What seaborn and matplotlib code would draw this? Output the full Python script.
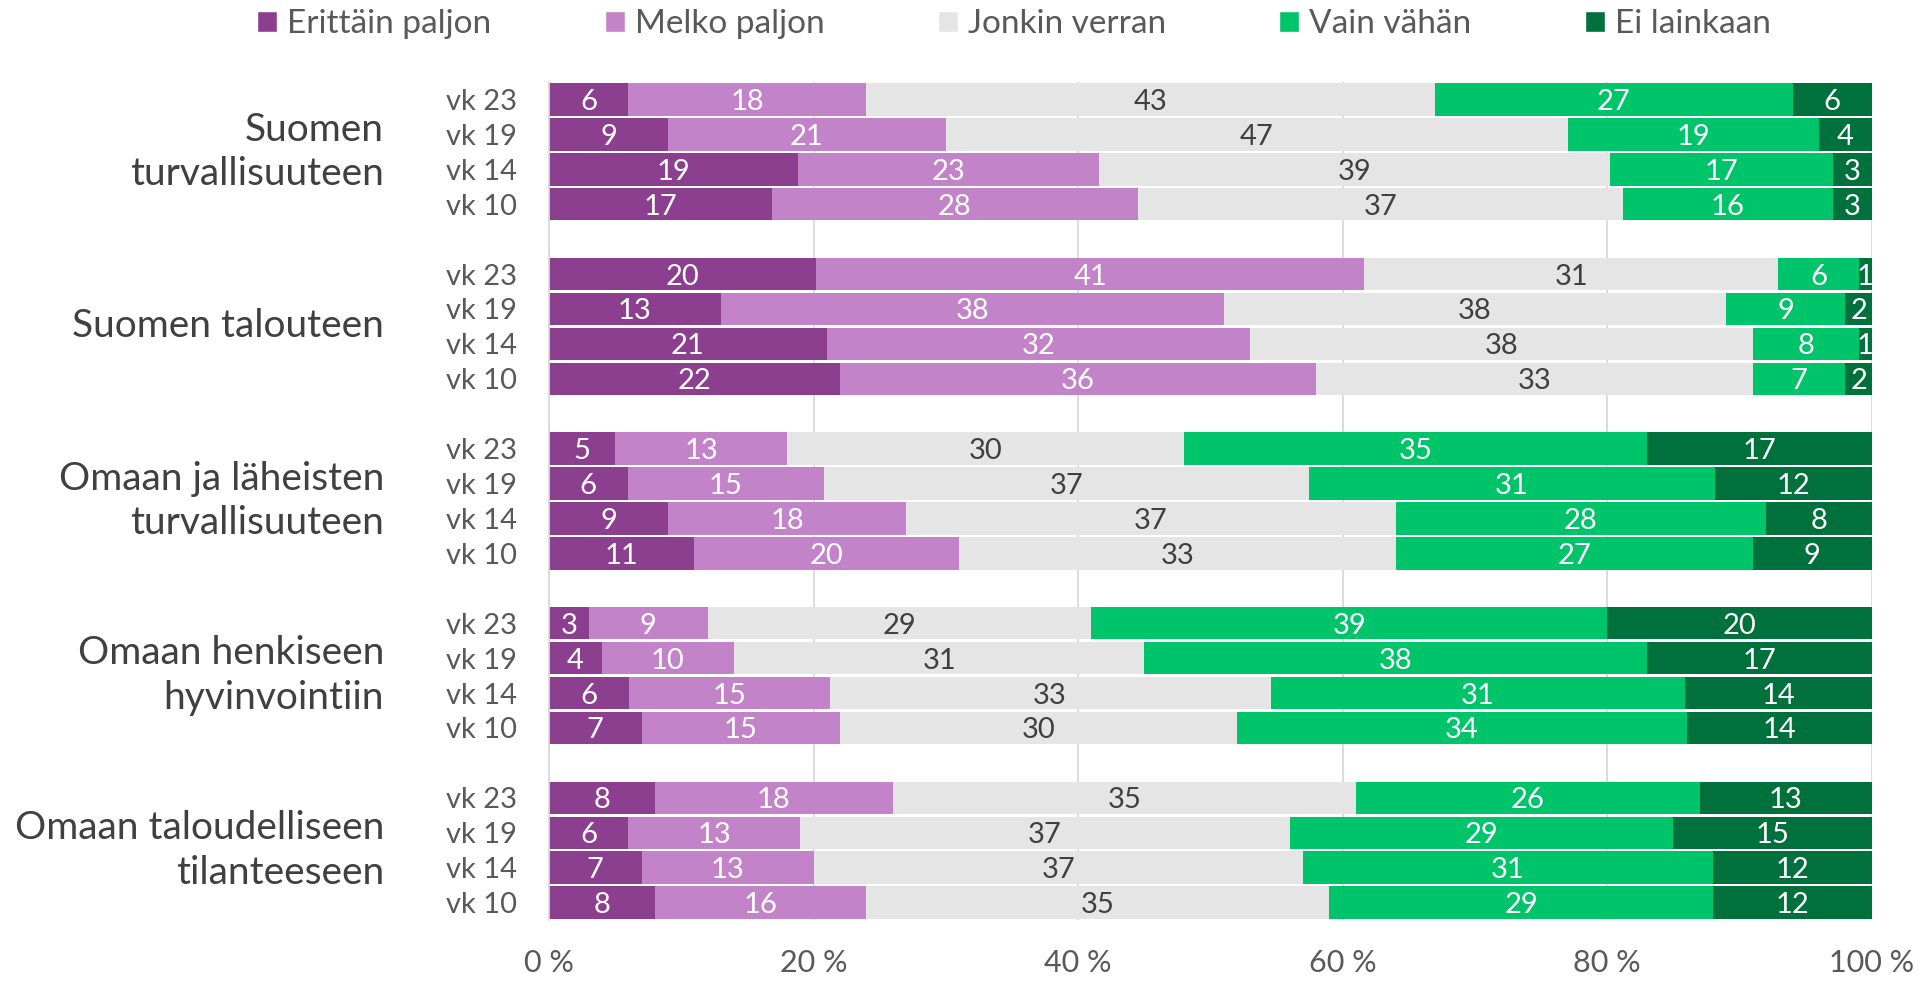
import numpy as np
import pandas as pd
import seaborn as sns
import matplotlib.pyplot as plt
from matplotlib.patches import Patch

# survey groups, top to bottom; four weeks per group
groups = ['Suomen\nturvallisuuteen', 'Suomen talouteen',
          'Omaan ja läheisten\nturvallisuuteen', 'Omaan henkiseen\nhyvinvointiin',
          'Omaan taloudelliseen\ntilanteeseen']
weeks = ['vk 23', 'vk 19', 'vk 14', 'vk 10']
answers = ['Erittäin paljon', 'Melko paljon', 'Jonkin verran', 'Vain vähän', 'Ei lainkaan']
colors = ['#8C3F8E', '#C383C8', '#E5E5E5', '#00C46A', '#00703C']

erittain = [6, 9, 19, 17, 20, 13, 21, 22, 5, 6, 9, 11, 3, 4, 6, 7, 8, 6, 7, 8]
melko = [18, 21, 23, 28, 41, 38, 32, 36, 13, 15, 18, 20, 9, 10, 15, 15, 18, 13, 13, 16]
jonkin = [43, 47, 39, 37, 31, 38, 38, 33, 30, 37, 37, 33, 29, 31, 33, 30, 35, 37, 37, 35]
vain = [27, 19, 17, 16, 6, 9, 8, 7, 35, 31, 28, 27, 39, 38, 31, 34, 26, 29, 31, 29]
ei = [6, 4, 3, 3, 1, 2, 1, 2, 17, 12, 8, 9, 20, 17, 14, 14, 13, 15, 12, 12]

sns.set_style('white')
plt.rcParams['font.family'] = ['Lato', 'DejaVu Sans']
dark = '#404040'
grey = '#595959'

df = pd.DataFrame({'group': np.repeat(groups, 4), 'week': weeks * 5})
for name, vals in zip(answers, [erittain, melko, jonkin, vain, ei]):
    df[name] = vals
# one empty slot between groups
df['pos'] = np.repeat(np.arange(5) * 5, 4) + np.tile(np.arange(4), 5)

vals = df[answers].to_numpy(float)
shares = vals / vals.sum(axis=1, keepdims=True) * 100
cum = shares.cumsum(axis=1)

fig = plt.figure(figsize=(19.26, 9.86), dpi=100)
ax = fig.add_axes([0.2850, 0.0669, 0.6869, 0.8499])

# stacked bars: draw cumulative totals from the longest down
for k in reversed(range(5)):
    df['cum'] = cum[:, k]
    sns.barplot(data=df, x='cum', y='pos', orient='h', native_scale=True,
                color=colors[k], saturation=1, width=0.93, linewidth=0,
                errorbar=None, ax=ax)

for i in range(len(df)):
    for k in range(5):
        ax.text(cum[i, k] - shares[i, k] / 2, df['pos'][i] + 0.07, str(int(vals[i, k])),
                ha='center', va='center', fontsize=21,
                color=dark if k == 2 else 'white')

ax.set_xlim(0, 100)
ax.set_ylim(23.5, -0.5)
ax.set_xticks(range(0, 101, 20))
ax.set_xticklabels([f'{v} %' for v in range(0, 101, 20)])
ax.set_yticks(df['pos'])
ax.set_yticklabels(df['week'])
ax.set_xlabel('')
ax.set_ylabel('')
ax.tick_params(axis='x', length=0, pad=21, labelsize=22, labelcolor=grey)
ax.tick_params(axis='y', length=0, pad=23, labelsize=21, labelcolor=grey)
ax.xaxis.grid(True, color='#D9D9D9', linewidth=1.3)
ax.set_axisbelow(True)
for s in ['top', 'right', 'bottom']:
    ax.spines[s].set_visible(False)
ax.spines['left'].set_color('#D9D9D9')
ax.spines['left'].set_linewidth(1.3)

# group names, right-aligned left of the week labels
for g, name in enumerate(groups):
    y_disp = ax.transData.transform((0, g * 5 + 1.5))[1]
    y_fig = fig.transFigure.inverted().transform((0, y_disp))[1]
    fig.text(384 / 1926, y_fig, name, ha='right', va='center', multialignment='right',
             fontsize=28, color=dark, linespacing=1.3)

handles = [Patch(facecolor=c, label=a) for a, c in zip(answers, colors)]
fig.legend(handles=handles, loc='center', bbox_to_anchor=(1014 / 1926, 1 - 24 / 986),
           ncol=5, frameon=False, fontsize=24, labelcolor=grey,
           handlelength=0.6, handleheight=0.6, handletextpad=0.3, columnspacing=3.4)

fig.savefig('out.png', dpi=100)
